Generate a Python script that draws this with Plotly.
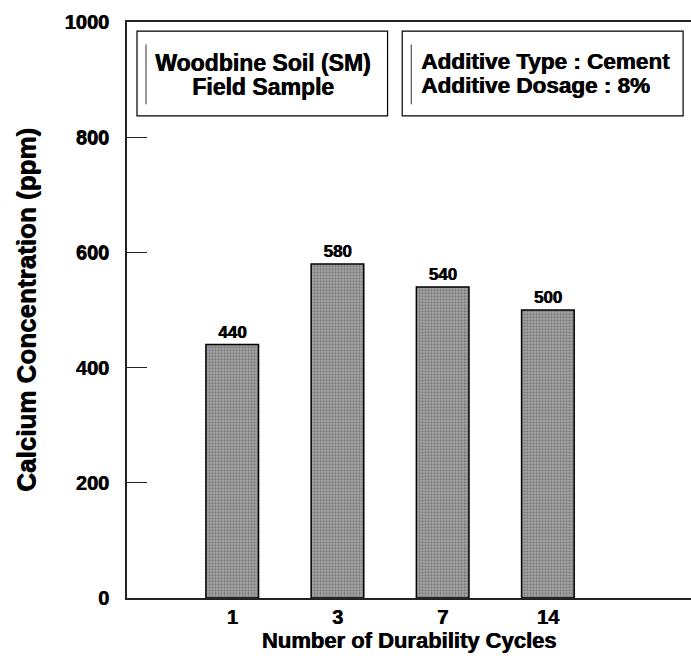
import plotly.graph_objects as go

# Calcium concentration measured after each number of durability cycles
cycles = ["1", "3", "7", "14"]
calcium_ppm = [440, 580, 540, 500]
y_ticks = [0, 200, 400, 600, 800, 1000]

FONT = "Liberation Sans, Arial, sans-serif"
HEAVY = "0.7px 0.4px 0px #000"


def bold(size):
    return dict(family=FONT, size=size, color="black", weight="bold", shadow=HEAVY)


fig = go.Figure(
    go.Bar(
        x=list(range(len(cycles))),
        y=calcium_ppm,
        width=0.5,
        text=[str(v) for v in calcium_ppm],
        textposition="outside",
        cliponaxis=False,
        textfont=bold(17),
        marker=dict(
            color="#9a9a9a",
            line=dict(color="black", width=1.5),
            pattern=dict(shape=".", fgcolor="#4a4a4a", bgcolor="#a8a8a8",
                         size=3, solidity=0.45),
        ),
        showlegend=False,
    )
)

fig.update_layout(
    width=691,
    height=660,
    margin=dict(l=127, r=0, t=22, b=62),
    plot_bgcolor="white",
    paper_bgcolor="white",
    font=dict(family=FONT, color="black"),
    bargap=0.5,
)

fig.update_xaxes(
    range=[-1.0, 4.36],
    tickmode="array",
    tickvals=list(range(len(cycles))),
    ticktext=cycles,
    ticks="",
    showgrid=False,
    zeroline=False,
    showline=True,
    linecolor="#222",
    linewidth=2,
    mirror=True,
    tickfont=bold(20),
    title=dict(text="Number of Durability Cycles", font=bold(22), standoff=3),
)

fig.update_yaxes(
    range=[0, 1000],
    tickmode="array",
    tickvals=y_ticks,
    ticks="inside",
    ticklen=20,
    tickwidth=1,
    tickcolor="#222",
    showgrid=False,
    zeroline=False,
    showline=True,
    linecolor="#222",
    linewidth=2,
    ticklabelstandoff=12,
    tickfont=bold(20),
    title=dict(text="Calcium Concentration (ppm)", font=bold(26), standoff=21),
)

# Two framed information boxes along the top of the plot
boxes = [(0.0177, 0.462), (0.488, 0.986)]
for x0, x1 in boxes:
    fig.add_shape(type="rect", xref="paper", yref="paper",
                  x0=x0, x1=x1, y0=0.837, y1=0.984,
                  line=dict(color="black", width=1.2), fillcolor="white")
    fig.add_shape(type="line", xref="paper", yref="paper",
                  x0=x0 + 0.016, x1=x0 + 0.016, y0=0.857, y1=0.961,
                  line=dict(color="#333", width=1))

left_lines = ["Woodbine Soil (SM)", "Field Sample"]
right_lines = ["Additive Type : Cement", "Additive Dosage : 8%"]
line_step = 0.0417
for i, txt in enumerate(left_lines):
    fig.add_annotation(xref="paper", yref="paper", x=0.241, y=0.929 - i * line_step,
                       text=txt, showarrow=False, font=bold(23),
                       xanchor="center", yanchor="middle")
for i, txt in enumerate(right_lines):
    fig.add_annotation(xref="paper", yref="paper", x=0.5185, y=0.931 - i * line_step,
                       text=txt, showarrow=False, font=bold(22.5),
                       xanchor="left", yanchor="middle")

fig.write_html("out.html")
